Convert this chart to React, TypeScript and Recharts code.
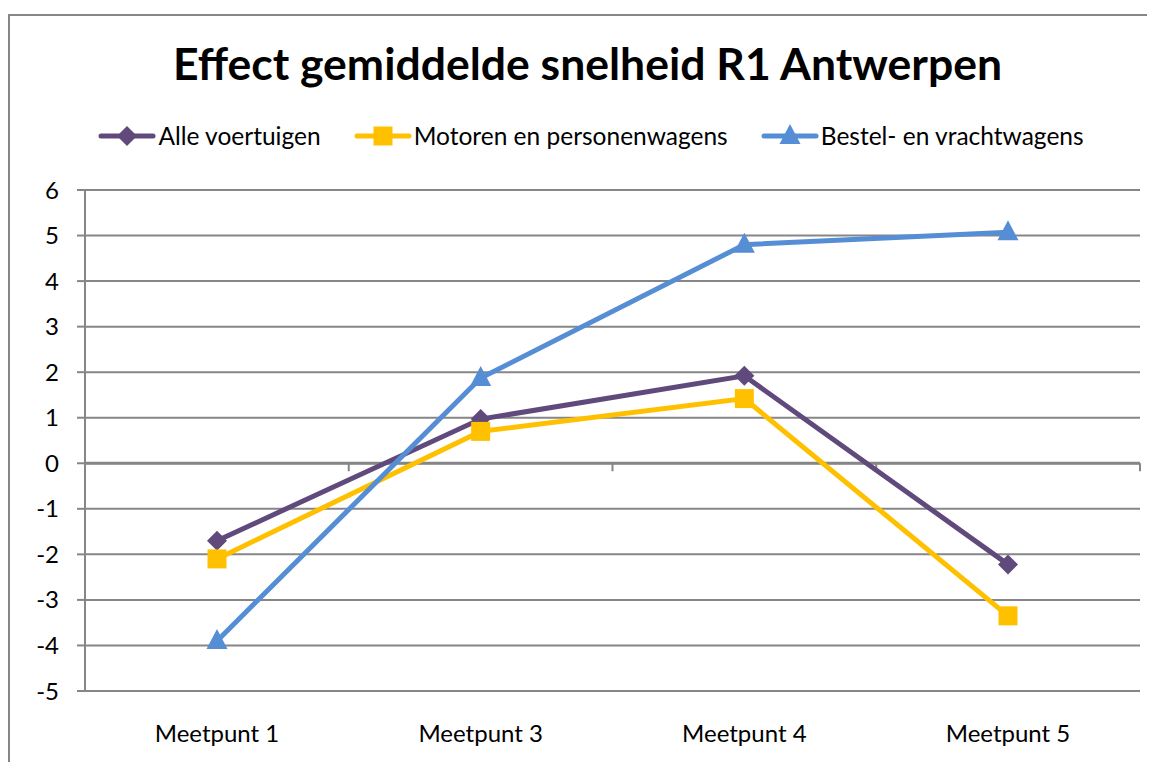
import { LineChart, Line, XAxis, YAxis, CartesianGrid, ReferenceLine } from 'recharts';

const categories = ['Meetpunt 1', 'Meetpunt 3', 'Meetpunt 4', 'Meetpunt 5'];
const alleVoertuigen = [-1.7, 0.97, 1.92, -2.22];
const motoren = [-2.1, 0.7, 1.42, -3.35];
const bestel = [-3.9, 1.87, 4.8, 5.07];
const yTicks = [-5, -4, -3, -2, -1, 0, 1, 2, 3, 4, 5, 6];

const series = [
  { key: 'alle', name: 'Alle voertuigen', color: '#604A7B', marker: 'diamond' },
  { key: 'motoren', name: 'Motoren en personenwagens', color: '#FFC000', marker: 'square' },
  { key: 'bestel', name: 'Bestel- en vrachtwagens', color: '#558ED5', marker: 'triangle' },
];

const data = categories.map((c, i) => ({
  name: c,
  alle: alleVoertuigen[i],
  motoren: motoren[i],
  bestel: bestel[i],
}));

const FONT = 'Lato, "Open Sans", sans-serif';
const GRAY = '#868686';

function Marker({ type, cx, cy, color }: { type: string; cx: number; cy: number; color: string }) {
  if (type === 'diamond') {
    return <polygon points={`${cx},${cy - 10} ${cx + 10},${cy} ${cx},${cy + 10} ${cx - 10},${cy}`} fill={color} />;
  }
  if (type === 'square') {
    return <rect x={cx - 9.5} y={cy - 9.5} width={19} height={19} fill={color} />;
  }
  return <polygon points={`${cx},${cy - 12} ${cx + 10.5},${cy + 8} ${cx - 10.5},${cy + 8}`} fill={color} />;
}

const makeDot = (type: string, color: string) => (props: any) => {
  const { cx, cy, index } = props;
  if (cx == null || cy == null) return <g key={index} />;
  return <Marker key={index} type={type} cx={cx} cy={cy} color={color} />;
};

// zero line with the category-boundary ticks hanging below it
const ZeroAxis = (props: any) => {
  const { x1, x2, y1 } = props;
  const n = categories.length;
  const step = (x2 - x1) / n;
  const ticks = Array.from({ length: n + 1 }, (_, i) => x1 + i * step);
  return (
    <g>
      <line x1={x1} x2={x2} y1={y1} y2={y1} stroke={GRAY} strokeWidth={3} />
      {ticks.map((x, i) => (
        <line key={i} x1={x} x2={x} y1={y1} y2={y1 + 8} stroke={GRAY} strokeWidth={2} />
      ))}
    </g>
  );
};

function LegendRow() {
  return (
    <div
      style={{
        position: 'absolute',
        top: 121,
        left: 0,
        width: 1155,
        display: 'flex',
        justifyContent: 'center',
        paddingLeft: 60,
        boxSizing: 'border-box',
        fontFamily: FONT,
        fontSize: 24.5,
        color: '#000',
      }}
    >
      {series.map((s) => (
        <div key={s.key} style={{ display: 'flex', alignItems: 'center', marginRight: 33 }}>
          <svg width={58} height={28}>
            <line x1={3} x2={55} y1={14} y2={14} stroke={s.color} strokeWidth={5} strokeLinecap="round" />
            <Marker type={s.marker} cx={29} cy={14} color={s.color} />
          </svg>
          <span style={{ marginLeft: 2 }}>{s.name}</span>
        </div>
      ))}
    </div>
  );
}

export default function App() {
  return (
    <div
      style={{
        position: 'relative',
        width: 1155,
        height: 770,
        margin: -8,
        overflow: 'hidden',
        background: '#fff',
      }}
    >
      <div
        style={{
          position: 'absolute',
          left: 8,
          top: 14,
          width: 1200,
          height: 800,
          border: `2px solid ${GRAY}`,
        }}
      />
      <div
        style={{
          position: 'absolute',
          top: 36,
          left: 0,
          width: 1155,
          textAlign: 'center',
          paddingLeft: 20,
          boxSizing: 'border-box',
          fontFamily: FONT,
          fontWeight: 700,
          fontSize: 44.5,
          color: '#000',
        }}
      >
        Effect gemiddelde snelheid R1 Antwerpen
      </div>
      <LegendRow />
      <div style={{ position: 'absolute', left: 0, top: 0 }}>
        <LineChart width={1155} height={770} data={data} margin={{ top: 190, right: 15, left: 25, bottom: 0 }}>
          <CartesianGrid vertical={false} stroke={GRAY} strokeWidth={2} />
          <XAxis
            dataKey="name"
            axisLine={false}
            tickLine={false}
            height={79}
            padding={{ left: 132, right: 132 }}
            tickMargin={28}
            tick={{ fill: '#000', fontSize: 24, fontFamily: FONT }}
          />
          <YAxis
            width={60}
            domain={[-5, 6]}
            ticks={yTicks}
            interval={0}
            axisLine={{ stroke: GRAY, strokeWidth: 2 }}
            tickLine={{ stroke: GRAY, strokeWidth: 2 }}
            tickSize={8}
            tickMargin={18}
            tick={{ fill: '#000', fontSize: 24, fontFamily: FONT }}
          />
          <ReferenceLine y={0} shape={ZeroAxis} />
          {series.map((s) => (
            <Line
              key={s.key}
              dataKey={s.key}
              name={s.name}
              stroke={s.color}
              strokeWidth={5}
              dot={makeDot(s.marker, s.color)}
              activeDot={false}
              isAnimationActive={false}
            />
          ))}
        </LineChart>
      </div>
    </div>
  );
}
